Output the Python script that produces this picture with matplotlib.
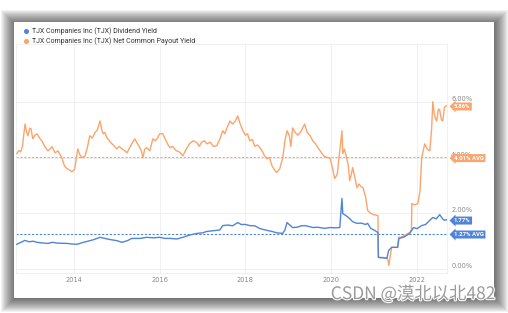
import matplotlib
matplotlib.use("Agg")
import matplotlib.pyplot as plt
import matplotlib.patheffects as pe
from matplotlib.patches import Rectangle
from matplotlib.lines import Line2D

# Data (decimal year, yield in %)
payout_years = [2012.67, 2012.72, 2012.76, 2012.80, 2012.86, 2012.90, 2012.93, 2012.97, 2013.00, 2013.04,
                2013.09, 2013.14, 2013.20, 2013.25, 2013.32, 2013.39, 2013.44, 2013.49, 2013.56, 2013.63,
                2013.68, 2013.72, 2013.78, 2013.84, 2013.90, 2013.95, 2014.00, 2014.02, 2014.06, 2014.09,
                2014.14, 2014.19, 2014.26, 2014.32, 2014.37, 2014.43, 2014.49, 2014.55, 2014.61, 2014.65,
                2014.68, 2014.72, 2014.77, 2014.83, 2014.89, 2014.95, 2015.00, 2015.06, 2015.12, 2015.18,
                2015.24, 2015.30, 2015.35, 2015.42, 2015.48, 2015.54, 2015.58, 2015.61, 2015.65, 2015.70,
                2015.77, 2015.84, 2015.90, 2015.95, 2016.00, 2016.07, 2016.12, 2016.18, 2016.24, 2016.30,
                2016.38, 2016.46, 2016.54, 2016.62, 2016.70, 2016.78, 2016.87, 2016.92, 2016.98, 2017.04,
                2017.10, 2017.18, 2017.25, 2017.33, 2017.40, 2017.47, 2017.52, 2017.58, 2017.64, 2017.70,
                2017.76, 2017.82, 2017.88, 2017.94, 2018.00, 2018.05, 2018.10, 2018.16, 2018.22, 2018.28,
                2018.34, 2018.40, 2018.45, 2018.50, 2018.56, 2018.62, 2018.68, 2018.73, 2018.80, 2018.87,
                2018.92, 2018.97, 2019.02, 2019.06, 2019.10, 2019.16, 2019.22, 2019.30, 2019.38, 2019.44,
                2019.50, 2019.57, 2019.63, 2019.69, 2019.76, 2019.83, 2019.90, 2019.97, 2020.02, 2020.08,
                2020.14, 2020.20, 2020.25, 2020.27, 2020.31, 2020.36, 2020.40, 2020.43, 2020.47, 2020.50,
                2020.55, 2020.60, 2020.65, 2020.70, 2020.74, 2020.80, 2020.85, 2020.92, 2021.00, 2021.09,
                2021.10, 2021.20, 2021.30, 2021.33, 2021.34, 2021.37, 2021.41, 2021.50, 2021.55, 2021.57,
                2021.62, 2021.70, 2021.83, 2021.87, 2021.88, 2021.95, 2022.02, 2022.07, 2022.11, 2022.18,
                2022.24, 2022.30, 2022.34, 2022.37, 2022.40, 2022.43, 2022.46, 2022.50, 2022.53, 2022.57,
                2022.60, 2022.64, 2022.69]
payout_yield = [4.14, 4.25, 4.20, 4.40, 5.20, 4.90, 4.78, 5.05, 5.03, 4.67,
                4.80, 4.85, 4.70, 4.60, 4.40, 4.24, 4.30, 4.39, 4.17, 4.24,
                4.10, 3.99, 3.70, 3.60, 3.55, 3.49, 3.55, 3.60, 4.00, 4.31,
                4.10, 3.99, 4.06, 4.40, 4.78, 4.70, 4.89, 5.00, 5.31, 5.00,
                4.85, 4.90, 4.71, 4.60, 4.49, 4.40, 4.31, 4.40, 4.31, 4.25,
                4.17, 4.35, 4.49, 4.67, 4.50, 4.35, 4.20, 3.99, 4.30, 4.35,
                4.24, 4.67, 4.60, 4.70, 4.85, 4.85, 4.70, 4.50, 4.35, 4.40,
                4.25, 4.20, 4.06, 4.30, 4.50, 4.60, 4.53, 4.40, 4.55, 4.60,
                4.49, 4.55, 4.40, 4.42, 4.65, 4.96, 4.85, 5.10, 5.31, 5.20,
                5.30, 5.49, 5.20, 4.96, 4.80, 4.85, 4.60, 4.65, 4.40, 4.45,
                4.35, 4.20, 4.05, 3.96, 4.00, 3.70, 3.55, 3.46, 3.60, 3.99,
                4.60, 4.96, 4.80, 4.40, 5.06, 4.90, 4.80, 4.95, 5.20, 4.90,
                4.80, 4.60, 4.50, 4.35, 4.20, 4.05, 4.00, 3.99, 3.70, 3.24,
                3.40, 4.24, 4.96, 4.14, 4.30, 3.99, 3.70, 3.17, 3.40, 3.64,
                3.30, 2.92, 3.05, 2.95, 2.92, 2.60, 2.10, 2.00, 1.95, 1.92,
                0.42, 0.42, 0.39, 0.30, 0.14, 0.40, 0.78, 0.78, 0.78, 1.14,
                1.14, 1.20, 1.31, 1.40, 2.35, 2.30, 2.35, 2.80, 3.99, 4.49,
                4.30, 4.24, 5.00, 6.00, 5.60, 5.40, 5.31, 5.74, 5.70, 5.35,
                5.31, 5.80, 5.86]

div_years = [2012.67, 2012.75, 2012.86, 2012.95, 2013.05, 2013.14, 2013.25, 2013.39, 2013.50, 2013.62,
             2013.84, 2013.95, 2014.07, 2014.20, 2014.30, 2014.45, 2014.61, 2014.72, 2014.84, 2015.00,
             2015.12, 2015.25, 2015.35, 2015.55, 2015.70, 2015.85, 2016.00, 2016.12, 2016.24, 2016.40,
             2016.54, 2016.70, 2016.87, 2017.00, 2017.10, 2017.33, 2017.40, 2017.47, 2017.60, 2017.70,
             2017.82, 2017.90, 2018.00, 2018.10, 2018.22, 2018.34, 2018.50, 2018.62, 2018.73, 2018.87,
             2018.92, 2018.97, 2019.02, 2019.10, 2019.20, 2019.30, 2019.38, 2019.50, 2019.57, 2019.69,
             2019.85, 2019.97, 2020.10, 2020.20, 2020.25, 2020.27, 2020.36, 2020.43, 2020.50, 2020.60,
             2020.70, 2020.80, 2020.85, 2020.92, 2021.00, 2021.09, 2021.10, 2021.20, 2021.30, 2021.34,
             2021.41, 2021.55, 2021.58, 2021.70, 2021.83, 2021.92, 2022.00, 2022.11, 2022.20, 2022.30,
             2022.37, 2022.45, 2022.53, 2022.60, 2022.64, 2022.69]
div_yield = [0.89, 0.95, 1.03, 0.98, 1.00, 0.96, 0.94, 0.92, 0.96, 0.93,
             0.92, 0.90, 0.89, 0.95, 0.99, 1.05, 1.14, 1.10, 1.06, 1.02,
             0.96, 1.02, 1.10, 1.10, 1.14, 1.12, 1.14, 1.10, 1.10, 1.08,
             1.14, 1.22, 1.28, 1.30, 1.35, 1.39, 1.40, 1.56, 1.58, 1.55,
             1.67, 1.60, 1.60, 1.56, 1.55, 1.45, 1.39, 1.35, 1.30, 1.28,
             1.40, 1.67, 1.60, 1.49, 1.50, 1.55, 1.56, 1.52, 1.49, 1.50,
             1.46, 1.49, 1.48, 1.49, 2.53, 1.99, 1.90, 1.81, 1.70, 1.64,
             1.65, 1.60, 1.64, 1.46, 1.40, 1.31, 0.42, 0.40, 0.39, 0.67,
             0.78, 0.78, 1.10, 1.15, 1.28, 1.49, 1.45, 1.56, 1.60, 1.75,
             1.85, 1.80, 1.95, 1.80, 1.75, 1.77]

payout_avg = 4.01
div_avg = 1.27
year_ticks = [2014, 2016, 2018, 2020, 2022]
pct_ticks = [0, 2, 4, 6]

orange = "#fba46c"
blue = "#4f84d8"
W, H = 508, 313

fig = plt.figure(figsize=(W / 100, H / 100), dpi=100)
fig.patch.set_facecolor("white")

def fr(x0, y0, x1, y1):
    # pixel box (top-left origin) -> figure fraction rectangle args
    return (x0 / W, 1 - y1 / H), (x1 - x0) / W, (y1 - y0) / H

# soft drop shadow around the card
for i in range(14):
    xy, w, h = fr(14 - i, 22 - i + 1, 494 + i + 1, 298 + i + 1)
    fig.patches.append(Rectangle(xy, w, h, transform=fig.transFigure,
                                 facecolor="black", edgecolor="none",
                                 alpha=0.05, zorder=-3))
xy, w, h = fr(14, 22, 494, 298)
fig.patches.append(Rectangle(xy, w, h, transform=fig.transFigure,
                             facecolor="white", edgecolor="none", zorder=-2))

ax = fig.add_axes([16 / W, 1 - 273 / H, (447 - 16) / W, (273 - 44) / H])
ax.set_facecolor("none")
ax.set_axisbelow(True)

ax.plot(payout_years, payout_yield, color=orange, lw=1.0, zorder=3)
ax.plot(div_years, div_yield, color=blue, lw=1.0, zorder=3)
ax.axhline(payout_avg, color=orange, lw=0.8, ls=(0, (2, 1.5)), zorder=2)
ax.axhline(div_avg, color=blue, lw=0.8, ls=(0, (2, 1.5)), zorder=2)

ax.set_xlim(2012.65, 2022.70)
ax.set_ylim(-0.14, 8.07)
ax.set_xticks(year_ticks)
ax.set_xticklabels([str(y) for y in year_ticks])
ax.set_yticks(pct_ticks)
ax.set_yticklabels(["%.2f%%" % v for v in pct_ticks])
ax.yaxis.tick_right()
ax.tick_params(length=0, labelsize=4.8, labelcolor="#888888", pad=3)
for lbl in ax.get_yticklabels():
    lbl.set_verticalalignment("bottom")
ax.grid(True, color="#eeeeee", lw=0.6)
for s in ax.spines.values():
    s.set_color("#eeeeee")
    s.set_linewidth(0.6)

# value tags on the right
tags = [(payout_yield[-1], "%.2f%%" % payout_yield[-1], orange),
        (payout_avg, "%.2f%% AVG" % payout_avg, orange),
        (div_yield[-1], "%.2f%%" % div_yield[-1], blue),
        (div_avg, "%.2f%% AVG" % div_avg, blue)]
for val, txt, col in tags:
    ax.annotate(txt, xy=(1, val), xycoords=("axes fraction", "data"),
                xytext=(5, -0.6), textcoords="offset points",
                ha="left", va="center", fontsize=4.3, color="white",
                fontweight="bold", family="Roboto", zorder=5,
                bbox=dict(boxstyle="larrow,pad=0.25", fc=col, ec="none"))

handles = [Line2D([], [], marker="o", ls="none", color=blue, markersize=2.6),
           Line2D([], [], marker="o", ls="none", color=orange, markersize=2.6)]
fig.legend(handles, ["TJX Companies Inc (TJX) Dividend Yield",
                     "TJX Companies Inc (TJX) Net Common Payout Yield"],
           loc="upper left", bbox_to_anchor=(20 / W, 1 - 23.5 / H),
           frameon=False, prop={"family": "Roboto", "size": 5.0},
           handlelength=0.7, handletextpad=0.6, labelspacing=0.35,
           borderpad=0, labelcolor="#333333")

fig.text(495 / W, 1 - 294 / H, "CSDN @漠北以北482", ha="right", va="center",
         fontsize=12.5, color="#9a9a9a", family=["Noto Sans CJK SC", "DejaVu Sans"],
         path_effects=[pe.withStroke(linewidth=1.5, foreground="white")], zorder=10)

fig.savefig("out.png", dpi=100)
